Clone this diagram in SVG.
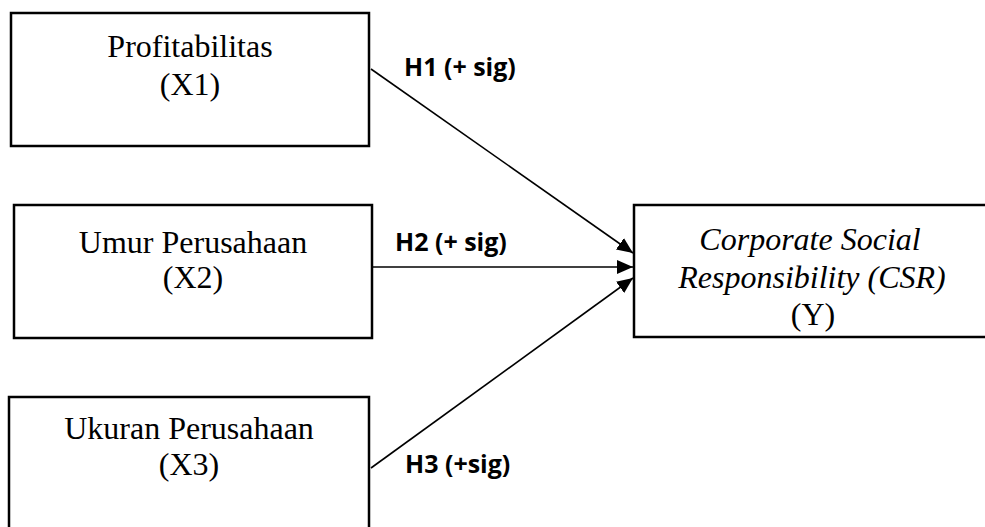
<svg xmlns="http://www.w3.org/2000/svg" width="985" height="527" viewBox="0 0 985 527">
  <style>
    .box { fill: #ffffff; stroke: #000000; stroke-width: 2.5; }
    .t { font-family: "Liberation Serif", "Times New Roman", serif; font-size: 32px; fill: #000000; text-anchor: middle; }
    .it { font-style: italic; }
    .lbl { font-family: "Open Sans", "Liberation Sans", sans-serif; font-weight: bold; font-size: 25px; fill: #000000; }
    .edge { stroke: #000000; stroke-width: 1.6; fill: none; marker-end: url(#arrow); }
  </style>
  <defs>
    <marker id="arrow" markerUnits="userSpaceOnUse" markerWidth="18" markerHeight="14" refX="16" refY="7" orient="auto">
      <path d="M0,0 L16,7 L0,14 Z" fill="#000000"/>
    </marker>
  </defs>
  <rect width="985" height="527" fill="#ffffff"/>

  <g id="node-x1">
    <rect class="box" x="11" y="13" width="358" height="133"/>
    <text class="t" x="190" y="57">Profitabilitas</text>
    <text class="t" x="190" y="95">(X1)</text>
  </g>

  <g id="node-x2">
    <rect class="box" x="14" y="205" width="358" height="133"/>
    <text class="t" x="193" y="253">Umur Perusahaan</text>
    <text class="t" x="193" y="288">(X2)</text>
  </g>

  <g id="node-x3">
    <rect class="box" x="9" y="397" width="360" height="135"/>
    <text class="t" x="189" y="439">Ukuran Perusahaan</text>
    <text class="t" x="189" y="475">(X3)</text>
  </g>

  <g id="node-y">
    <rect class="box" x="634" y="205" width="360" height="132"/>
    <text class="t it" x="810" y="250">Corporate Social</text>
    <text class="t it" x="812" y="288">Responsibility (CSR)</text>
    <text class="t" x="813" y="325">(Y)</text>
  </g>

  <g id="connectors">
    <line class="edge" x1="371" y1="69" x2="633" y2="253"/>
    <line class="edge" x1="372" y1="267" x2="633" y2="267"/>
    <line class="edge" x1="371" y1="468" x2="633" y2="278"/>
    <text class="lbl" x="404" y="76">H1 (+ sig)</text>
    <text class="lbl" x="395" y="251">H2 (+ sig)</text>
    <text class="lbl" x="405" y="473">H3 (+sig)</text>
  </g>
</svg>
